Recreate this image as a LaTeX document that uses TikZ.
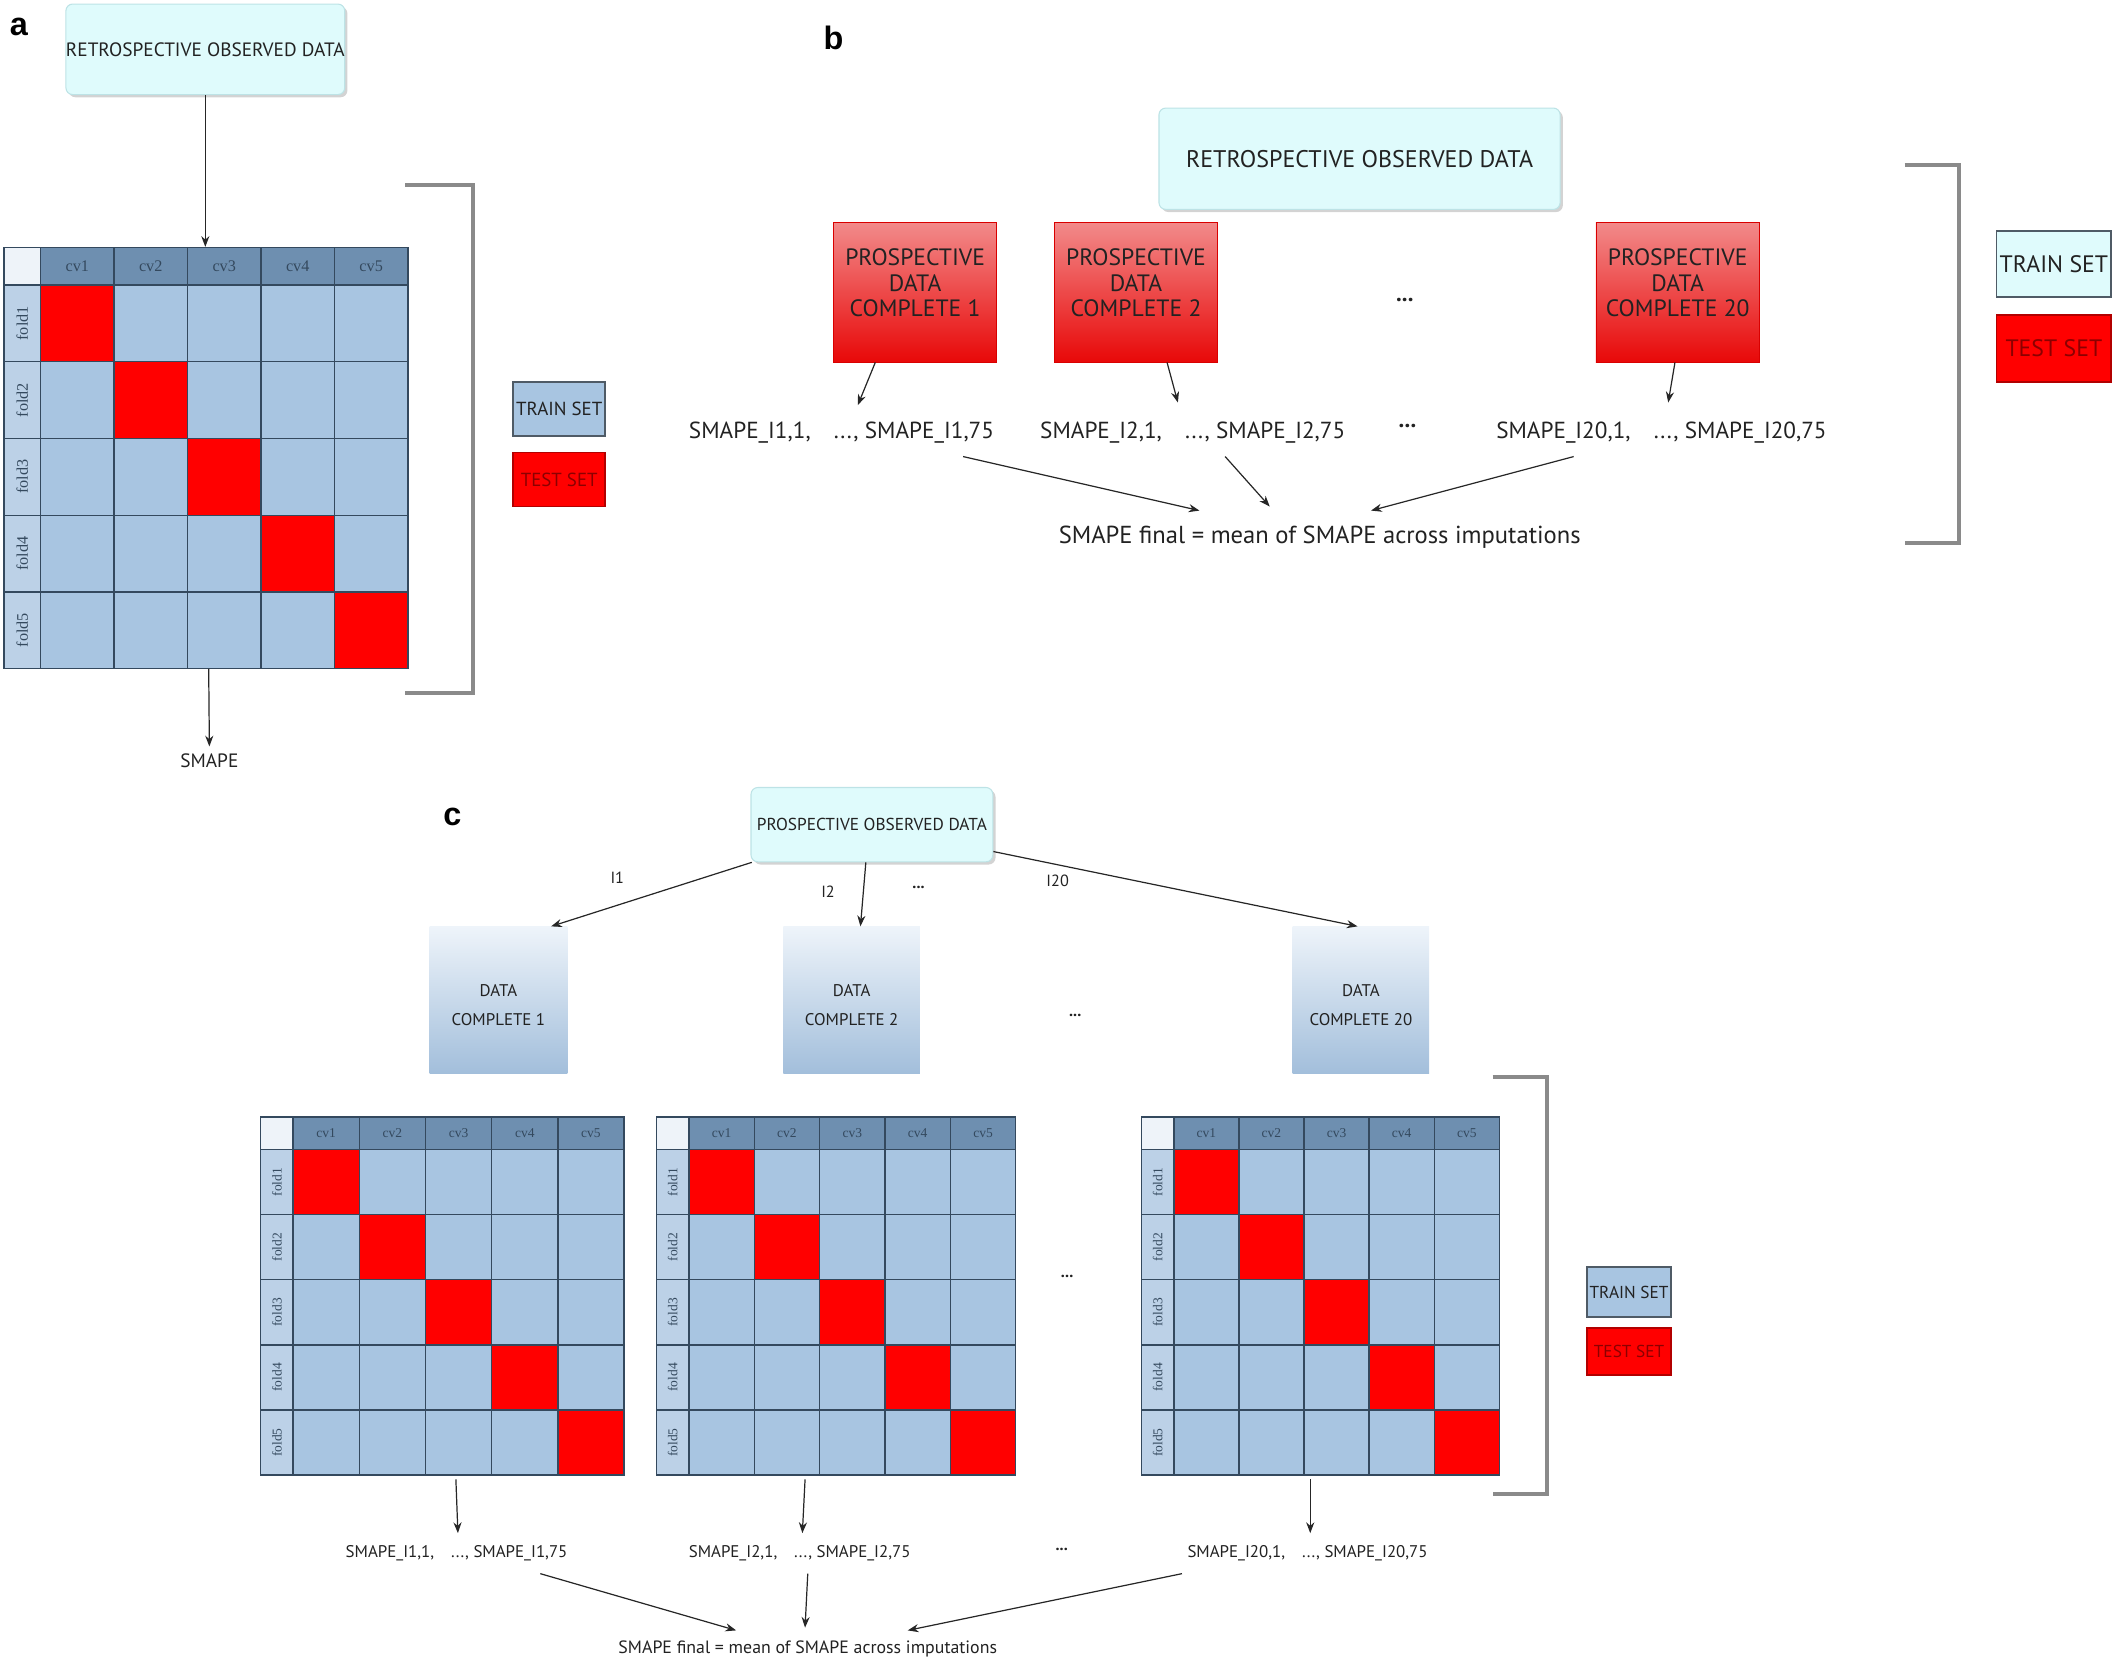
\documentclass[tikz,border=0pt]{standalone}
\usepackage{fontspec}
\setmainfont{PT Sans}
\newfontfamily\serf{Liberation Serif}
\newfontfamily\lblf{Liberation Sans}
\usetikzlibrary{arrows.meta,calc,shadows}
\definecolor{cyanbox}{HTML}{DFFBFC}
\definecolor{cyanedge}{HTML}{BDE3E6}
\definecolor{hdr}{HTML}{6E8FB0}
\definecolor{cell}{HTML}{A8C5E1}
\definecolor{leftc}{HTML}{BCD1E7}
\definecolor{corner}{HTML}{EEF3F9}
\definecolor{gridc}{HTML}{34495E}
\definecolor{brk}{HTML}{8A8A8A}
\definecolor{legedge}{HTML}{4F5B66}
\definecolor{redtop}{HTML}{F28A8A}
\definecolor{redbot}{HTML}{E80808}
\definecolor{dtop}{HTML}{EEF4FA}
\definecolor{dmid}{HTML}{B9CFE6}
\definecolor{dbot}{HTML}{A2BEDB}
\definecolor{txtc}{HTML}{222222}
\tikzset{
  arr/.style={-{Stealth[length=8pt,width=6pt]}, line width=0.9pt, black!85},
  cyanstyle/.style={rounded corners=5pt, fill=cyanbox, draw=cyanedge, line width=0.8pt,
    drop shadow={opacity=0.35,shadow xshift=2pt,shadow yshift=-2pt}, inner sep=0pt, align=center, text=txtc},
  redbox/.style={top color=redtop, middle color=red!95!white, bottom color=redbot, draw=red!85!black,
    line width=0.6pt, inner sep=0pt, align=center, text=txtc},
  databox/.style={top color=dtop, middle color=dmid, bottom color=dbot, inner sep=0pt, align=center, text=txtc},
  txt/.style={inner sep=1pt, text=txtc},
  lbl/.style={inner sep=0pt, font=\lblf\bfseries\fontsize{24}{24}\selectfont},
  legtrain/.style={draw=legedge, line width=1.2pt, fill=cell, inner sep=0pt, text=txtc},
  legtrainb/.style={draw=legedge, line width=1.2pt, fill=cyanbox, inner sep=0pt, text=txtc},
  legtest/.style={draw=red!70!black, line width=1.2pt, fill=red, inner sep=0pt, text=red!55!black},
  gridl/.style={draw=gridc, line width=1pt},
  brkline/.style={draw=brk, line width=3pt},
  cvl/.style={inner sep=0pt, text=gridc}
}
\newcommand{\stk}[1]{\begin{tabular}{@{}c@{}}#1\end{tabular}}
% matrix: #1 name, #2 x0, #3 y0, #4 x1, #5 y1, #6 header height, #7 left width, #8 font size
\newcommand{\cvmat}[8]{%
  \pgfmathsetmacro\mw{#4-#2}\pgfmathsetmacro\mh{#5-#3}%
  \pgfmathsetmacro\mx{(#2+#4)/2}\pgfmathsetmacro\my{(#3+#5)/2}%
  \pgfmathsetmacro\cw{(#4-#2-#7)/5}%
  \pgfmathsetmacro\rh{(#5-#3-#6)/5}%
  \node[inner sep=0pt, minimum width=\mw pt, minimum height=\mh pt] (#1) at (\mx,\my) {};
  \fill[hdr] ({#2+#7},#3) rectangle (#4,{#3+#6});
  \fill[corner] (#2,#3) rectangle ({#2+#7},{#3+#6});
  \fill[leftc] (#2,{#3+#6}) rectangle ({#2+#7},#5);
  \foreach \r in {1,...,5}{\foreach \c in {1,...,5}{%
    \ifnum\r=\c\def\cc{red}\else\def\cc{cell}\fi
    \fill[\cc] ({#2+#7+(\c-1)*\cw},{#3+#6+(\r-1)*\rh}) rectangle ++(\cw,\rh);
  }}
  \foreach \c in {0,...,4}{\draw[gridl] ({#2+#7+\c*\cw},#3) -- ({#2+#7+\c*\cw},#5);}
  \foreach \r in {0,...,4}{\draw[gridl] (#2,{#3+#6+\r*\rh}) -- (#4,{#3+#6+\r*\rh});}
  \draw[gridl] (#2,#3) rectangle (#4,#5);
  \foreach \c in {1,...,5}{\node[cvl, font=\serf\fontsize{#8}{#8}\selectfont] (#1-cv\c) at ({#2+#7+(\c-0.5)*\cw},{#3+#6/2}) {cv\c};}
  \foreach \r in {1,...,5}{\node[cvl, rotate=90, font=\serf\fontsize{#8}{#8}\selectfont] (#1-f\r) at ({#2+#7/2},{#3+#6+(\r-0.5)*\rh}) {fold\r};}
}
\begin{document}
\begin{tikzpicture}[x=1pt,y=-1pt]
\useasboundingbox (0,0) rectangle (1568,1232);
% ================= panel a =================
\node[lbl] (la) at (14,20) {a};
\node[cyanstyle, minimum width=205pt, minimum height=67pt, font=\fontsize{14.3}{14.3}\selectfont] (retroA) at (152,36.5) {RETROSPECTIVE OBSERVED DATA};
\cvmat{mA}{3}{183}{302}{495}{28}{27}{12}
\node[txt, font=\fontsize{14.3}{14.3}\selectfont] (smA) at (155,563) {SMAPE};
\draw[arr] (retroA.south) -- (retroA.south |- mA.north);
\draw[arr] ($(mA.south)+(2,0)$) -- ($(smA.north)+(0,-4)$);
\draw[brkline] (300,137) -- (350,137) -- (350,513) -- (300,513);
\node[legtrain, minimum width=68pt, minimum height=40pt, font=\fontsize{14}{14}\selectfont] (trA) at (414,303) {TRAIN SET};
\node[legtest, minimum width=68pt, minimum height=40pt, font=\fontsize{14}{14}\selectfont] (teA) at (414,355) {TEST SET};
% ================= panel b =================
\node[lbl] (lb) at (617,28) {b};
\node[cyanstyle, minimum width=297pt, minimum height=75pt, font=\fontsize{17.8}{17.8}\selectfont] (retroB) at (1006.5,117.5) {RETROSPECTIVE OBSERVED DATA};
\node[redbox, minimum width=121pt, minimum height=103pt, font=\fontsize{17.5}{18.8}\selectfont] (r1) at (677.5,216.5) {\raisebox{0.4pt}[0pt][0pt]{\stk{PROSPECTIVE\\DATA\\COMPLETE 1}}};
\node[redbox, minimum width=121pt, minimum height=103pt, font=\fontsize{17.5}{18.8}\selectfont] (r2) at (841,216.5) {\raisebox{0.4pt}[0pt][0pt]{\stk{PROSPECTIVE\\DATA\\COMPLETE 2}}};
\node[redbox, minimum width=121pt, minimum height=103pt, font=\fontsize{17.5}{18.8}\selectfont] (r3) at (1242,216.5) {\raisebox{0.4pt}[0pt][0pt]{\stk{PROSPECTIVE\\DATA\\COMPLETE 20}}};
\node[txt, font=\bfseries\fontsize{17}{17}\selectfont] (db1) at (1040,222) {...};
\node[txt, font=\fontsize{17.2}{17.2}\selectfont] (s1) at (623,320) {SMAPE\_I1,1,\quad ..., SMAPE\_I1,75};
\node[txt, font=\fontsize{17.2}{17.2}\selectfont] (s2) at (883,320) {SMAPE\_I2,1,\quad ..., SMAPE\_I2,75};
\node[txt, font=\bfseries\fontsize{17}{17}\selectfont] (db2) at (1042,315) {...};
\node[txt, font=\fontsize{17.2}{17.2}\selectfont] (s3) at (1230,320) {SMAPE\_I20,1,\quad ..., SMAPE\_I20,75};
\node[txt, font=\fontsize{18.2}{18.2}\selectfont] (finB) at (977,398) {SMAPE final = mean of SMAPE across imputations};
\draw[arr] ($(r1.south)+(-29.5,0)$) -- ($(s1.center)+(12,-20)$);
\draw[arr] ($(r2.south)+(23,0)$) -- ($(s2.center)+(-11,-22)$);
\draw[arr] ($(r3.south)+(-2,0)$) -- ($(s3.center)+(5,-22)$);
\draw[arr] ($(s1.center)+(90,18)$) -- ($(finB.center)+(-89,-20)$);
\draw[arr] ($(s2.center)+(24,18)$) -- ($(finB.center)+(-37,-23)$);
\draw[arr] ($(s3.center)+(-65,18)$) -- ($(finB.center)+(38,-20)$);
\draw[brkline] (1410,122) -- (1450,122) -- (1450,402) -- (1410,402);
\node[legtrainb, minimum width=85pt, minimum height=49pt, font=\fontsize{17.6}{17.6}\selectfont] (trB) at (1520.5,195.5) {TRAIN SET};
\node[legtest, minimum width=85pt, minimum height=50pt, font=\fontsize{17.6}{17.6}\selectfont] (teB) at (1520.5,258) {TEST SET};
% ================= panel c =================
\node[lbl] (lc) at (335,605) {c};
\node[cyanstyle, minimum width=179pt, minimum height=55pt, font=\fontsize{12.8}{12.8}\selectfont] (prosC) at (645.5,610.5) {PROSPECTIVE OBSERVED DATA};
\node[databox, minimum width=102pt, minimum height=109pt, font=\fontsize{12.5}{22}\selectfont] (d1) at (369,740.5) {\raisebox{-6.6pt}[0pt][0pt]{\stk{DATA\\COMPLETE 1}}};
\node[databox, minimum width=101pt, minimum height=109pt, font=\fontsize{12.5}{22}\selectfont] (d2) at (630.5,740.5) {\raisebox{-6.6pt}[0pt][0pt]{\stk{DATA\\COMPLETE 2}}};
\node[databox, minimum width=101pt, minimum height=109pt, font=\fontsize{12.5}{22}\selectfont] (d3) at (1007.5,740.5) {\raisebox{-6.6pt}[0pt][0pt]{\stk{DATA\\COMPLETE 20}}};
\draw[arr] ($(prosC.south west)+(1,0)$) -- ($(d1.north)+(39,0)$);
\draw[arr] ($(prosC.south)+(-4.5,0)$) -- ($(d2.north)+(6.5,0)$);
\draw[arr] ($(prosC.south east)+(0,-8)$) -- ($(d3.north)+(-2.5,0)$);
\node[txt, font=\fontsize{12}{12}\selectfont] (i1) at (457,650) {I1};
\node[txt, font=\fontsize{12}{12}\selectfont] (i2) at (613,660) {I2};
\node[txt, font=\bfseries\fontsize{12}{12}\selectfont] (dc1) at (680,657) {...};
\node[txt, font=\fontsize{12}{12}\selectfont] (i20) at (783,652) {I20};
\node[txt, font=\bfseries\fontsize{12}{12}\selectfont] (dc2) at (796,752) {...};
\cvmat{m1}{193}{827}{462}{1092}{24}{24}{10}
\cvmat{m2}{486}{827}{752}{1092}{24}{24}{10}
\cvmat{m3}{845}{827}{1110}{1092}{24}{24}{10}
\node[txt, font=\bfseries\fontsize{12}{12}\selectfont] (dc3) at (790,945) {...};
\node[txt, font=\fontsize{12.5}{12.5}\selectfont] (t1) at (338,1150) {SMAPE\_I1,1,\quad ..., SMAPE\_I1,75};
\node[txt, font=\fontsize{12.5}{12.5}\selectfont] (t2) at (592,1150) {SMAPE\_I2,1,\quad ..., SMAPE\_I2,75};
\node[txt, font=\bfseries\fontsize{12}{12}\selectfont] (dc4) at (786,1147) {...};
\node[txt, font=\fontsize{12.5}{12.5}\selectfont] (t3) at (968,1150) {SMAPE\_I20,1,\quad ..., SMAPE\_I20,75};
\node[txt, font=\fontsize{13.2}{13.2}\selectfont] (finC) at (598,1221) {SMAPE final = mean of SMAPE across imputations};
\draw[arr] ($(m1.south)+(10,3)$) -- ($(t1.center)+(1,-15)$);
\draw[arr] ($(m2.south)+(-23,3)$) -- ($(t2.center)+(2,-15)$);
\draw[arr] ($(m3.south)+(-7.5,3)$) -- ($(t3.center)+(2,-15)$);
\draw[arr] ($(t1.center)+(62,15)$) -- ($(finC.center)+(-53,-14)$);
\draw[arr] ($(t2.center)+(6,15)$) -- ($(finC.center)+(-2,-16)$);
\draw[arr] ($(t3.center)+(-93,15)$) -- ($(finC.center)+(74,-14)$);
\draw[brkline] (1105,797) -- (1145,797) -- (1145,1106) -- (1105,1106);
\node[legtrain, minimum width=62pt, minimum height=37pt, font=\fontsize{12.8}{12.8}\selectfont] (trC) at (1206,956.5) {TRAIN SET};
\node[legtest, minimum width=62pt, minimum height=35pt, font=\fontsize{12.8}{12.8}\selectfont] (teC) at (1206,1000.5) {TEST SET};
\end{tikzpicture}
\end{document}
